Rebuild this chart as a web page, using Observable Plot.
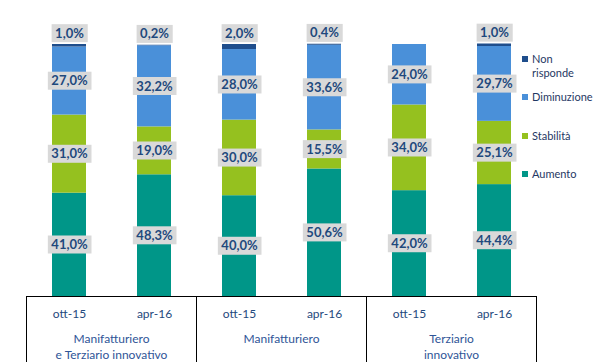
<!DOCTYPE html>
<html>
<head>
<meta charset="utf-8">
<script src="https://cdn.jsdelivr.net/npm/d3@7"></script>
<script src="https://cdn.jsdelivr.net/npm/@observablehq/plot@0.6"></script>
<style>
  body { margin: 0; background: #fff; }
  #wrap { position: relative; width: 600px; height: 362px; font-family: Lato, sans-serif; }
  #legend { position: absolute; left: 522px; top: 52px; font-size: 11px; color: #1f3864; line-height: 14px; }
  .item { position: absolute; left: 0; white-space: nowrap; }
  .sw { position: absolute; left: 0; top: 4px; width: 6px; height: 6px; }
  .lt { position: absolute; left: 10px; top: 0; }
</style>
</head>
<body>
<div id="wrap"><div id="legend"></div></div>
<script>
const groups = ["Manifatturiero\ne Terziario innovativo", "Manifatturiero", "Terziario\ninnovativo"];
const periods = ["ott-15", "apr-16"];
const series = ["Aumento", "Stabilità", "Diminuzione", "Non risponde"];
const aumento     = [41.0, 48.3, 40.0, 50.6, 42.0, 44.4];
const stabilita   = [31.0, 19.0, 30.0, 15.5, 34.0, 25.1];
const diminuzione = [27.0, 32.2, 28.0, 33.6, 24.0, 29.7];
const nonRisponde = [1.0, 0.2, 2.0, 0.4, 0, 1.0];
const colors = ["#009688", "#95c11f", "#4a90d9", "#1f4e8c"];

const valuesBySeries = [aumento, stabilita, diminuzione, nonRisponde];
const rows = [];
groups.forEach((g, gi) => periods.forEach((p, pi) => {
  const idx = gi * 2 + pi;
  series.forEach((s, si) => rows.push({group: g, period: p, series: s, value: valuesBySeries[si][idx]}));
}));

const fmt = v => d3.format(".1f")(v).replace(".", ",") + "%";
const topSeries = "Non risponde";
const H = 362, MT = 44, MB = 66;

const plot = Plot.plot({
  width: 600,
  height: H,
  marginTop: MT,
  marginBottom: MB,
  marginLeft: 25,
  marginRight: 63,
  style: {fontFamily: "Lato, sans-serif", background: "transparent"},
  fx: {domain: groups, padding: 0, axis: null},
  x: {domain: periods, paddingInner: 0.6, paddingOuter: 0.3, axis: null},
  y: {domain: [0, 100], axis: null},
  color: {domain: series, range: colors},
  marks: [
    Plot.barY(rows, {fx: "group", x: "period", y: "value", fill: "series", z: "series"}),
    Plot.ruleY([0], {stroke: "#000", strokeWidth: 1}),
    Plot.frame({anchor: "left", insetTop: H - MT - MB, insetBottom: -MB, stroke: "#000"}),
    Plot.frame({anchor: "right", insetTop: H - MT - MB, insetBottom: -MB, stroke: "#000"}),
    Plot.axisX({tickSize: 0, tickPadding: 13, fontSize: 12, fill: "#1f497d", label: null}),
    Plot.text(groups, {fx: d => d, text: d => d, frameAnchor: "bottom", lineAnchor: "top", dy: 35, fontSize: 12, lineHeight: 1.33, fill: "#2f5597"}),
    Plot.text(rows, Plot.stackY({fx: "group", x: "period", y: "value", z: "series",
      text: d => d.series === topSeries ? null : fmt(d.value),
      fontSize: 13, fontWeight: "bold", fill: "#1f497d"})),
    Plot.text(rows, Plot.stackY2({fx: "group", x: "period", y: "value", z: "series",
      text: d => d.series === topSeries && d.value > 0 ? fmt(d.value) : null,
      dy: -11, fontSize: 13, fontWeight: "bold", fill: "#1f497d"}))
  ]
});

const wrap = document.getElementById("wrap");
wrap.insertBefore(plot, wrap.firstChild);

// gray boxes behind the value labels
d3.select(plot).selectAll("text").each(function() {
  const t = this.textContent;
  if (!/%$/.test(t)) return;
  const bb = this.getBBox();
  const r = document.createElementNS("http://www.w3.org/2000/svg", "rect");
  r.setAttribute("x", bb.x - 3.5);
  r.setAttribute("y", bb.y - 0.5);
  r.setAttribute("width", bb.width + 7);
  r.setAttribute("height", bb.height + 2);
  r.setAttribute("fill", "#d9d9d9");
  const tr = this.getAttribute("transform");
  if (tr) r.setAttribute("transform", tr);
  this.parentNode.insertBefore(r, this);
});

// legend
const legendItems = [
  {s: "Non risponde", lines: ["Non", "risponde"], top: 0},
  {s: "Diminuzione", lines: ["Diminuzione"], top: 38},
  {s: "Stabilità", lines: ["Stabilità"], top: 77},
  {s: "Aumento", lines: ["Aumento"], top: 115}
];
const leg = d3.select("#legend");
legendItems.forEach(it => {
  const d = leg.append("div").attr("class", "item").style("top", it.top + "px");
  d.append("div").attr("class", "sw").style("background", colors[series.indexOf(it.s)]);
  d.append("div").attr("class", "lt").html(it.lines.join("<br>"));
});
</script>
</body>
</html>
